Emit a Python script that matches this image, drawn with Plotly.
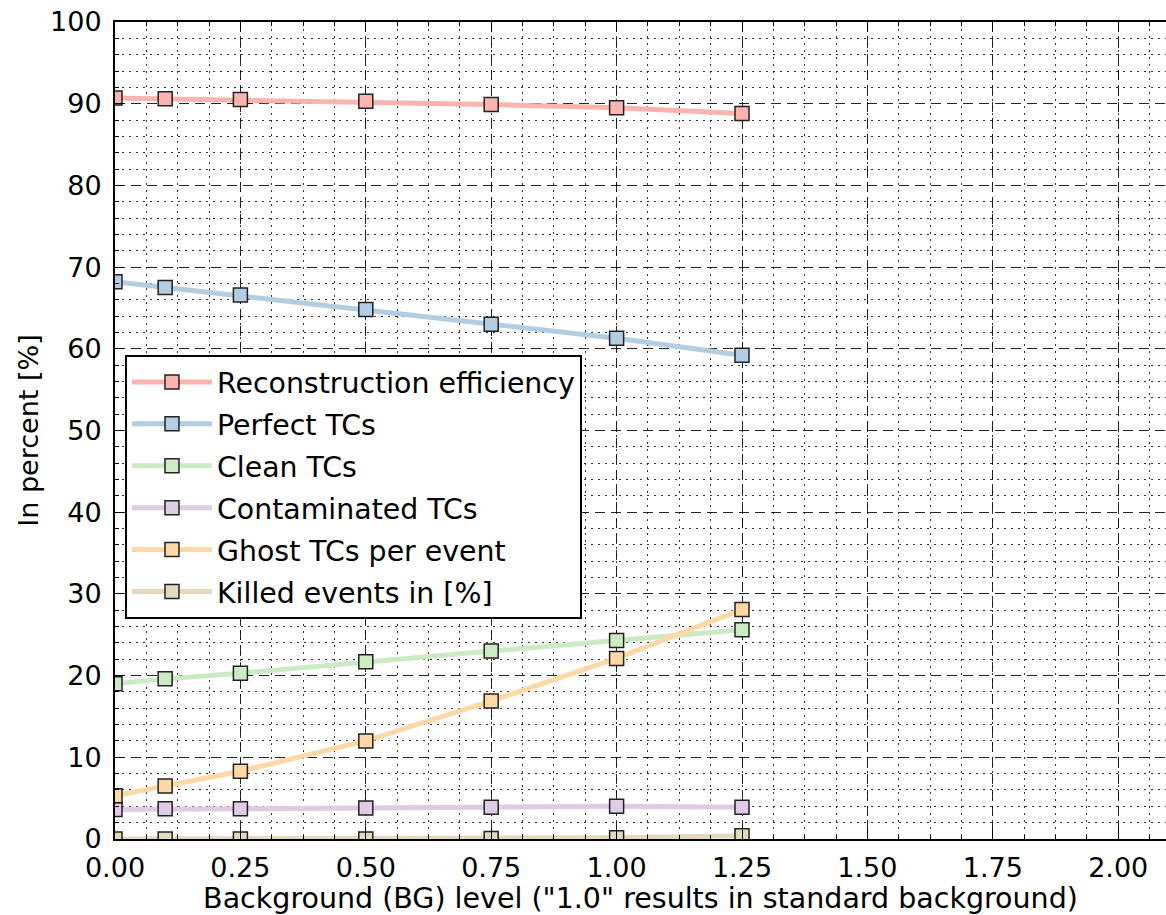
import plotly.graph_objects as go

# Background level scan
bg_level = [0.0, 0.1, 0.25, 0.5, 0.75, 1.0, 1.25]

reco_eff = [90.7, 90.6, 90.5, 90.3, 89.9, 89.5, 88.8]
perfect_tcs = [68.2, 67.5, 66.6, 64.8, 63.0, 61.3, 59.2]
clean_tcs = [19.0, 19.6, 20.3, 21.7, 23.0, 24.3, 25.6]
contaminated_tcs = [3.6, 3.7, 3.7, 3.8, 3.9, 4.0, 3.9]
ghost_tcs = [5.3, 6.5, 8.3, 12.0, 16.9, 22.1, 28.1]
killed_events = [0.0, 0.0, 0.0, 0.0, 0.05, 0.15, 0.4]

series = [
    ("Reconstruction efficiency", reco_eff, "#fbb4ae"),
    ("Perfect TCs", perfect_tcs, "#b3cde3"),
    ("Clean TCs", clean_tcs, "#ccebc5"),
    ("Contaminated TCs", contaminated_tcs, "#decbe4"),
    ("Ghost TCs per event", ghost_tcs, "#fed9a6"),
    ("Killed events in [%]", killed_events, "#e5d8bd"),
]

FONT = "DejaVu Sans"

fig = go.Figure()
for i, (name, vals, col) in enumerate(series):
    fig.add_trace(go.Scatter(
        x=bg_level, y=vals, name=name, mode="lines+markers",
        legendgroup=f"g{i}",
        line=dict(color=col, width=5),
        marker=dict(symbol="square", size=14, color=col,
                    line=dict(color="#222222", width=1.5)),
        cliponaxis=True,
    ))

W, H = 1166, 915
ml, mr, mt, mb = 115, 0, 22, 76
px_per_unit = 501.6
x_max = (W - ml - mr) / px_per_unit

fig.update_layout(
    width=W, height=H,
    margin=dict(l=ml, r=mr, t=mt, b=mb),
    paper_bgcolor="white", plot_bgcolor="white",
    font=dict(family=FONT, size=27, color="black"),
    showlegend=True,
    legend=dict(
        x=0.0095, y=0.5925, xanchor="left", yanchor="top",
        bgcolor="white", bordercolor="black", borderwidth=2,
        font=dict(family=FONT, size=28.4, color="black"),
        tracegroupgap=2, itemwidth=80,
    ),
    xaxis=dict(
        range=[0, x_max], tickmode="array",
        tickvals=[0, 0.25, 0.5, 0.75, 1.0, 1.25, 1.5, 1.75, 2.0],
        ticktext=["0.00", "0.25", "0.50", "0.75", "1.00", "1.25", "1.50", "1.75", "2.00"],
        ticks="inside", ticklen=9, tickwidth=1, tickcolor="black",
        showline=True, linecolor="black", linewidth=2, mirror="ticks",
        showgrid=True, gridcolor="rgba(0,0,0,0.85)", gridwidth=1, griddash="10px,6px",
        minor=dict(dtick=0.0625, tick0=0, ticks="inside", ticklen=4, tickcolor="black",
                   showgrid=True, gridcolor="rgba(0,0,0,0.8)", gridwidth=1, griddash="2px,5px"),
        zeroline=False, ticklabelstandoff=4,
        title=dict(text='Background (BG) level ("1.0" results in standard background)',
                   font=dict(family=FONT, size=28.5), standoff=6),
        tickfont=dict(family=FONT, size=27),
    ),
    yaxis=dict(
        range=[0, 100], dtick=10, tick0=0,
        ticks="inside", ticklen=9, tickwidth=1, tickcolor="black",
        showline=True, linecolor="black", linewidth=2, mirror=False,
        showgrid=True, gridcolor="rgba(0,0,0,0.85)", gridwidth=1, griddash="10px,6px",
        minor=dict(dtick=2, tick0=0, ticks="inside", ticklen=4, tickcolor="black",
                   showgrid=True, gridcolor="rgba(0,0,0,0.8)", gridwidth=1, griddash="2px,5px"),
        zeroline=False, ticklabelstandoff=6,
        title=dict(text="In percent [%]", font=dict(family=FONT, size=27), standoff=4),
        tickfont=dict(family=FONT, size=27),
    ),
)

fig.write_html("out.html")
